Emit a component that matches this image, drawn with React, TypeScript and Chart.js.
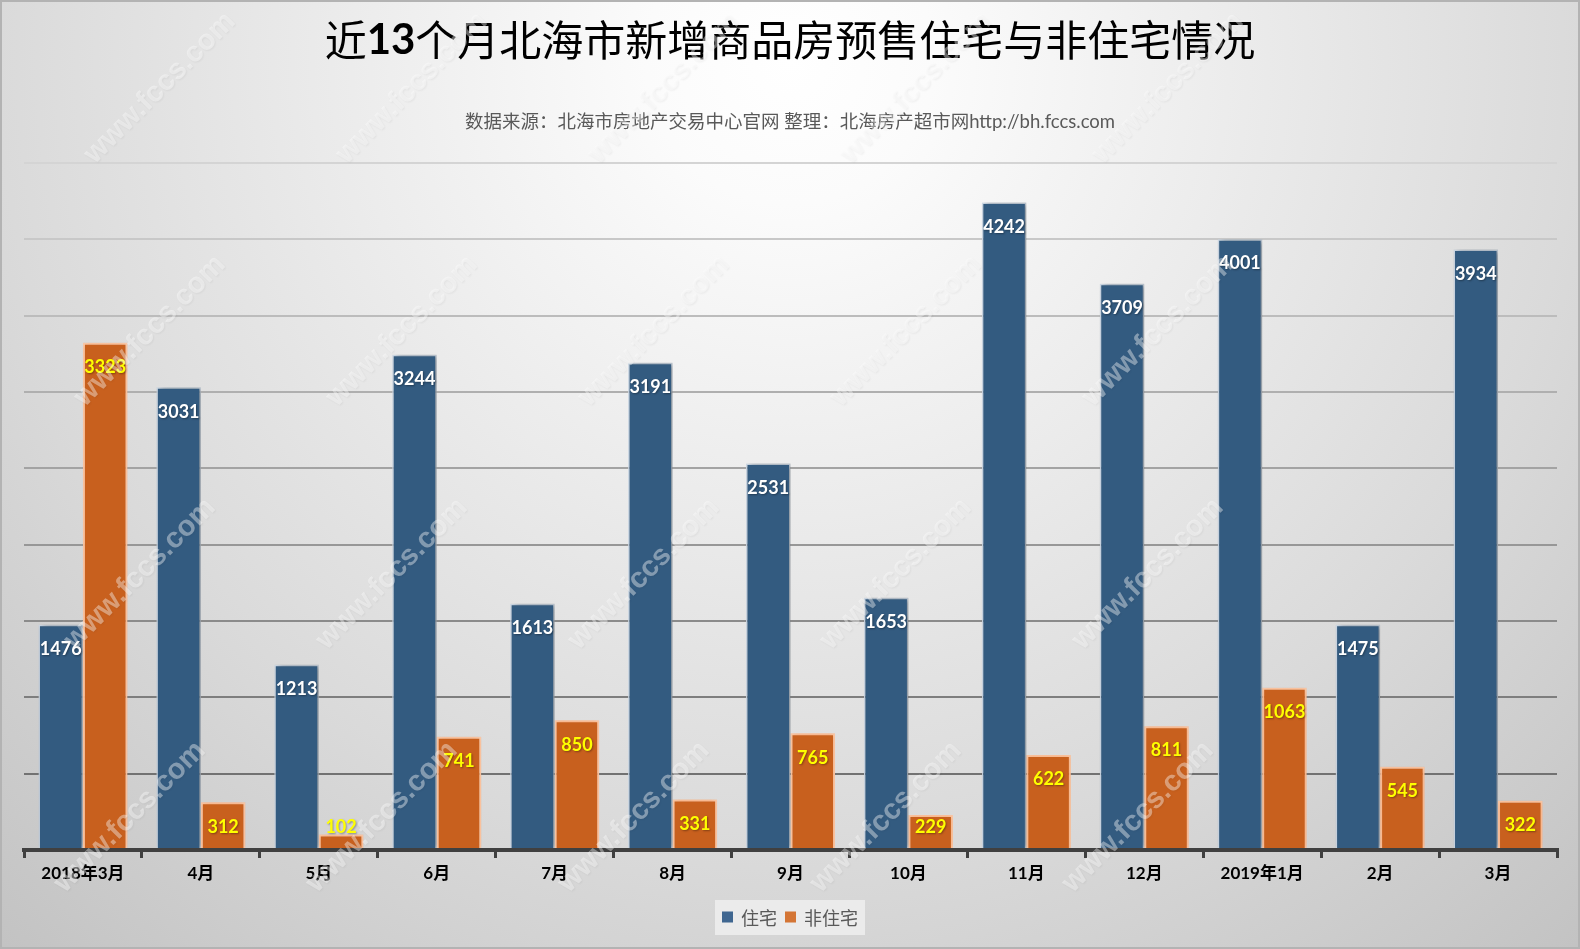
import React, { useEffect, useRef } from 'react';
import { Chart, registerables } from 'chart.js';

Chart.register(...registerables);

const categories = ['2018年3月', '4月', '5月', '6月', '7月', '8月', '9月', '10月', '11月', '12月', '2019年1月', '2月', '3月'];
const residential = [1476, 3031, 1213, 3244, 1613, 3191, 2531, 1653, 4242, 3709, 4001, 1475, 3934];
const nonResidential = [3323, 312, 102, 741, 850, 331, 765, 229, 622, 811, 1063, 545, 322];
const seriesNames = ['住宅', '非住宅'];
const titleParts = ['近', '13', '个月北海市新增商品房预售住宅与非住宅情况'];
const subtitleText = '数据来源：北海市房地产交易中心官网 整理：北海房产超市网http://bh.fccs.com';
const watermarkText = 'www.fccs.com';
const yMin = 0;
const yMax = 4500;
const yStep = 500;

const W = 1580;
const H = 949;
const BLUE = '#335b80';
const ORANGE = '#c8601e';
const LEGEND_BLUE = '#3f6690';
const LEGEND_ORANGE = '#d47535';
const CJK = '"Noto Sans CJK SC"';
const NUM = 'Lato, "Noto Sans CJK SC"';

function lerpGray(a: number, b: number, t: number) {
  const v = Math.round(a + (b - a) * Math.max(0, Math.min(1, t)));
  return `rgb(${v},${v},${v})`;
}

const backgroundPlugin = {
  id: 'bgTitle',
  beforeDraw(chart: any) {
    const { ctx, width, height } = chart;
    ctx.save();
    const g = ctx.createRadialGradient(width / 2, 60, 0, width / 2, 60, 1200);
    g.addColorStop(0, '#ffffff');
    g.addColorStop(0.12, '#fbfbfb');
    g.addColorStop(0.66, '#dadada');
    g.addColorStop(1, '#c2c2c2');
    ctx.fillStyle = g;
    ctx.fillRect(0, 0, width, height);
    ctx.strokeStyle = '#b3b3b3';
    ctx.lineWidth = 2;
    ctx.strokeRect(1, 1, width - 2, height - 2);

    // title
    const tFontN = `normal 42px ${CJK}`;
    const tFontB = `bold 42px ${NUM}`;
    ctx.textBaseline = 'middle';
    ctx.fillStyle = '#000000';
    const fonts = [tFontN, tFontB, tFontN];
    let total = 0;
    const widths = titleParts.map((p, i) => {
      ctx.font = fonts[i];
      const w = ctx.measureText(p).width;
      total += w;
      return w;
    });
    let x = width / 2 - total / 2;
    ctx.textAlign = 'left';
    titleParts.forEach((p, i) => {
      ctx.font = fonts[i];
      ctx.fillText(p, x, 40);
      x += widths[i];
    });

    // subtitle
    ctx.font = `normal 18.5px ${NUM}`;
    ctx.fillStyle = '#595959';
    ctx.textAlign = 'center';
    ctx.fillText(subtitleText, width / 2, 122);
    ctx.restore();
  },
};

const shadowPlugin = {
  id: 'barShadow',
  beforeDatasetDraw(chart: any, args: any) {
    const ctx = chart.ctx;
    ctx.save();
    if (args.index === 0) {
      ctx.shadowColor = 'rgba(0,0,0,0.35)';
      ctx.shadowBlur = 6;
      ctx.shadowOffsetX = 3;
      ctx.shadowOffsetY = 0;
    } else {
      ctx.shadowColor = 'rgba(245,150,90,0.7)';
      ctx.shadowBlur = 5;
      ctx.shadowOffsetX = 0;
      ctx.shadowOffsetY = 0;
    }
  },
  afterDatasetDraw(chart: any) {
    chart.ctx.restore();
  },
};

const labelPlugin = {
  id: 'barLabels',
  afterDatasetsDraw(chart: any) {
    const ctx = chart.ctx;
    ctx.save();
    ctx.font = `bold 18px ${NUM}`;
    ctx.textAlign = 'center';
    ctx.textBaseline = 'middle';
    chart.data.datasets.forEach((ds: any, di: number) => {
      const meta = chart.getDatasetMeta(di);
      meta.data.forEach((el: any, i: number) => {
        const ty = Math.min(el.y + 24.5, el.base - 22);
        ctx.shadowColor = 'rgba(0,0,0,0.35)';
        ctx.shadowBlur = 2;
        ctx.shadowOffsetX = 1;
        ctx.shadowOffsetY = 1;
        ctx.fillStyle = di === 0 ? '#ffffff' : '#ffff00';
        ctx.fillText(String(ds.data[i]), el.x, ty);
      });
    });
    ctx.restore();
  },
};

const legendPlugin = {
  id: 'customLegend',
  afterDraw(chart: any) {
    const { ctx, width } = chart;
    ctx.save();
    ctx.font = `normal 18px ${CJK}`;
    const colors = [LEGEND_BLUE, LEGEND_ORANGE];
    const box = 11;
    const gapIn = 8;
    const gapOut = 8;
    const padX = 7;
    const tw = seriesNames.map((n) => ctx.measureText(n).width);
    const total = padX * 2 + seriesNames.length * (box + gapIn) + tw.reduce((a, b) => a + b, 0) + gapOut * (seriesNames.length - 1);
    let x = width / 2 - total / 2;
    const cy = 917;
    ctx.fillStyle = 'rgba(238,238,238,0.85)';
    ctx.fillRect(x, 900, total, 35);
    x += padX;
    ctx.textBaseline = 'middle';
    ctx.textAlign = 'left';
    seriesNames.forEach((n, i) => {
      ctx.fillStyle = colors[i];
      ctx.fillRect(x, cy - box / 2, box, box);
      x += box + gapIn;
      ctx.fillStyle = '#595959';
      ctx.fillText(n, x, cy + 1);
      x += tw[i] + gapOut;
    });
    ctx.restore();
  },
};

const watermarkPlugin = {
  id: 'watermark',
  afterDraw(chart: any) {
    const ctx = chart.ctx;
    ctx.save();
    ctx.font = 'bold 29px "Liberation Sans"';
    ctx.textAlign = 'center';
    ctx.textBaseline = 'middle';
    for (let r = 0; r < 4; r++) {
      for (let c = 0; c < 5; c++) {
        const cx = 160 - r * 10 + c * 252;
        const cy = 88 + r * 243;
        ctx.save();
        ctx.translate(cx, cy);
        ctx.rotate(-Math.PI / 4);
        ctx.shadowColor = 'rgba(0,0,0,0.12)';
        ctx.shadowBlur = 2;
        ctx.shadowOffsetX = 1;
        ctx.shadowOffsetY = 1;
        ctx.fillStyle = 'rgba(255,255,255,0.4)';
        ctx.fillText(watermarkText, 0, 0);
        ctx.restore();
      }
    }
    ctx.restore();
  },
};

export default function App() {
  const ref = useRef<HTMLCanvasElement | null>(null);

  useEffect(() => {
    if (!ref.current) return;
    const chart = new Chart(ref.current, {
      type: 'bar',
      data: {
        labels: categories,
        datasets: [
          {
            label: seriesNames[0],
            data: residential,
            backgroundColor: BLUE,
            borderColor: 'rgba(205,218,232,0.95)',
            borderWidth: 1.5,
            categoryPercentage: 0.755,
            barPercentage: 1,
          },
          {
            label: seriesNames[1],
            data: nonResidential,
            backgroundColor: ORANGE,
            borderColor: 'rgba(250,200,168,0.95)',
            borderWidth: 2,
            categoryPercentage: 0.755,
            barPercentage: 1,
          },
        ],
      },
      options: {
        responsive: false,
        animation: false,
        devicePixelRatio: 1,
        layout: { padding: { top: 163, left: 24, right: 23, bottom: 0 } },
        plugins: {
          legend: { display: false },
          title: { display: false },
          tooltip: { enabled: false },
        },
        scales: {
          x: {
            afterFit: (s: any) => {
              s.height = H - 850;
            },
            grid: {
              display: true,
              drawOnChartArea: false,
              drawTicks: true,
              tickLength: 8,
              color: '#404040',
              lineWidth: 3,
            },
            border: { display: true, width: 4, color: '#404040', z: 1 },
            ticks: {
              color: '#000000',
              padding: 5,
              font: { family: NUM, size: 17, weight: 'bold' },
              maxRotation: 0,
              autoSkip: false,
            },
          },
          y: {
            min: yMin,
            max: yMax,
            afterFit: (s: any) => {
              s.width = 0;
            },
            ticks: { display: false, stepSize: yStep },
            border: { display: false },
            grid: {
              drawTicks: false,
              lineWidth: 2,
              color: (c: any) => {
                const v = c.tick ? c.tick.value : 0;
                if (v === 0) return 'rgba(0,0,0,0)';
                return lerpGray(0x72, 0xd4, (v - 500) / 4000);
              },
            },
          },
        },
      },
      plugins: [backgroundPlugin, shadowPlugin, labelPlugin, legendPlugin, watermarkPlugin],
    } as any);
    return () => chart.destroy();
  }, []);

  return (
    <div style={{ position: 'absolute', left: 0, top: 0, width: W, height: H }}>
      <canvas ref={ref} width={W} height={H} style={{ display: 'block' }} />
    </div>
  );
}
